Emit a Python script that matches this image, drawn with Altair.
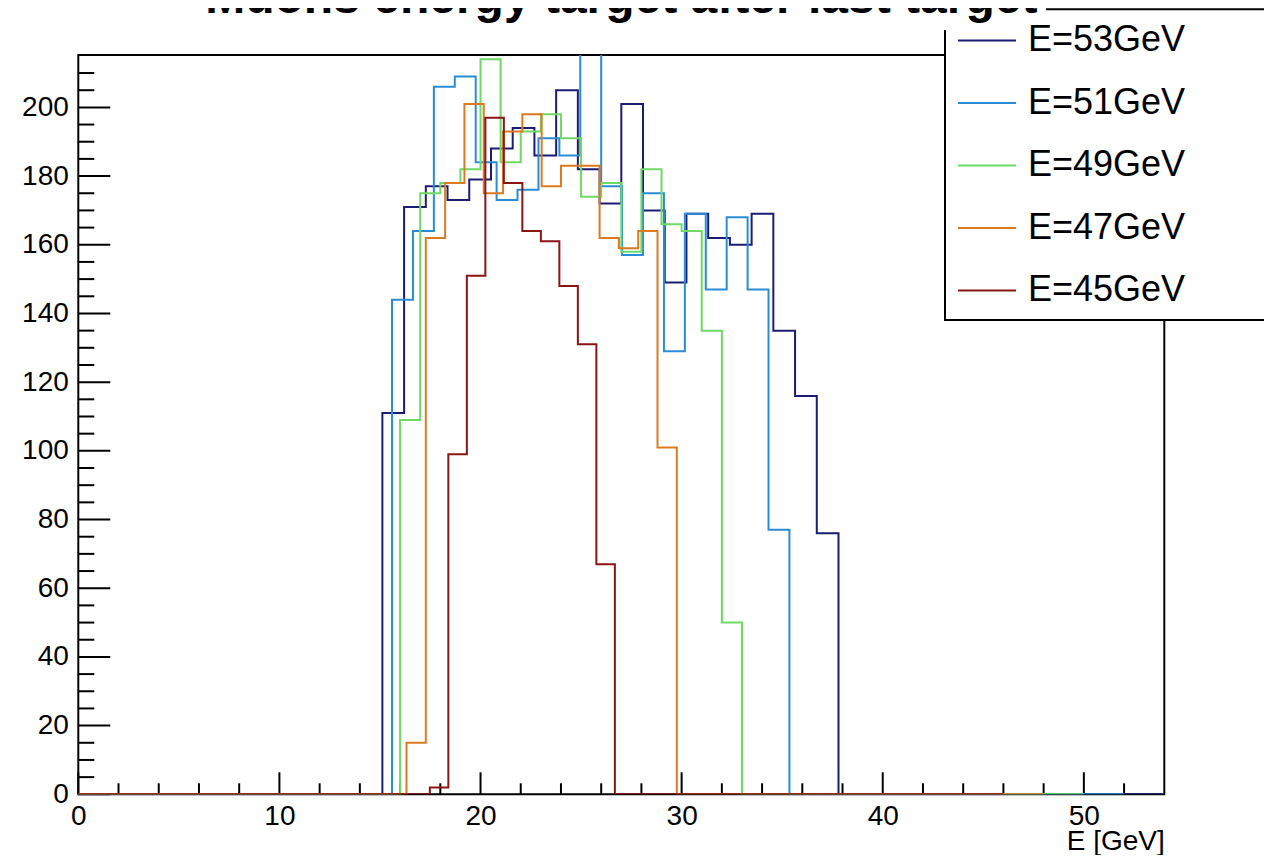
import altair as alt
import pandas as pd

# ---------------- data ----------------
series_labels = ["E=53GeV", "E=51GeV", "E=49GeV", "E=47GeV", "E=45GeV"]
series_colors = ["#1c1c74", "#2b8cd6", "#6ed964", "#dc7a22", "#8a1515"]
# each histogram: 50 bins from 0 to hist_max
hist_max = [54, 52, 50, 48, 46]
n_bins = 50
# index of first non-empty bin and the non-empty bin contents
first_bin = [14, 15, 16, 17, 19]
contents = [
    [111, 171, 177, 173, 179, 188, 194, 186, 205, 182, 172, 201, 170, 149, 169,
     162, 160, 169, 135, 116, 76],
    [144, 164, 206, 209, 184, 173, 176, 191, 186, 228, 177, 157, 175, 129, 169,
     147, 168, 147, 77],
    [109, 175, 178, 182, 214, 184, 193, 198, 191, 174, 178, 158, 182, 166, 164,
     135, 50],
    [15, 162, 178, 201, 175, 193, 198, 177, 183, 183, 162, 159, 164, 101],
    [2, 99, 151, 197, 178, 164, 161, 148, 131, 67],
]

x_major = [0, 10, 20, 30, 40, 50]
x_minor = [2, 4, 6, 8, 12, 14, 16, 18, 22, 24, 26, 28, 32, 34, 36, 38, 42, 44,
           46, 48, 52]
y_major = [0, 20, 40, 60, 80, 100, 120, 140, 160, 180, 200]
y_minor = [5, 10, 15, 25, 30, 35, 45, 50, 55, 65, 70, 75, 85, 90, 95, 105, 110,
           115, 125, 130, 135, 145, 150, 155, 165, 170, 175, 185, 190, 195, 205,
           210]

x_domain = [0, 54]
y_domain = [0, 215.25]

# ---------------- build histogram outline table ----------------
rows = []
for lab, hmax, fb, cont in zip(series_labels, hist_max, first_bin, contents):
    counts = [0] * n_bins
    for i, c in enumerate(cont):
        counts[fb + i] = c
    w = hmax / n_bins
    for k in range(n_bins + 1):
        rows.append({"series": lab, "x": k * w, "y": counts[min(k, n_bins - 1)]})
df = pd.DataFrame(rows)

FONT = "Liberation Sans"
W, H = 1086, 739.3

xs = alt.Scale(domain=x_domain, nice=False, zero=False)
ys = alt.Scale(domain=y_domain, nice=False, zero=False)

color = alt.Color(
    "series:N",
    scale=alt.Scale(domain=series_labels, range=series_colors),
    legend=alt.Legend(
        title=None,
        orient="none",
        legendX=866.7,
        legendY=-44.6,
        symbolType="stroke",
        symbolSize=3364,
        symbolStrokeWidth=2,
        labelFontSize=36,
        labelFont=FONT,
        labelColor="black",
        labelOffset=11,
        labelLimit=600,
        rowPadding=14.5,
        padding=0,
        symbolOffset=12,
    ),
)

x_axis = alt.Axis(
    values=x_major, format="d", labelFontSize=28, labelFont=FONT,
    labelColor="black", labelPadding=8, tickSize=0, domain=False, grid=False,
    labelFlush=False, labelOverlap=False,
    title="E [GeV]", titleFont=FONT, titleFontSize=28, titleFontWeight="normal",
    titleColor="black", titleAnchor="end", titleAlign="right",
    titleBaseline="alphabetic", titleY=55,
)
y_axis = alt.Axis(
    values=y_major, format="d", labelFontSize=28, labelFont=FONT,
    labelColor="black", labelPadding=10, tickSize=0, domain=False, grid=False,
    labelOverlap=False, title=None,
)

# tick marks (ROOT style, pointing inwards)
t_ymaj = alt.Chart(pd.DataFrame({"v": y_major})).mark_rule(
    color="black", strokeWidth=2).encode(
    y=alt.Y("v:Q", scale=ys, axis=y_axis), x=alt.value(0), x2=alt.value(32))
t_ymin = alt.Chart(pd.DataFrame({"v": y_minor})).mark_rule(
    color="black", strokeWidth=2).encode(
    y=alt.Y("v:Q", scale=ys, axis=y_axis), x=alt.value(0), x2=alt.value(16))
t_xmaj = alt.Chart(pd.DataFrame({"v": x_major})).mark_rule(
    color="black", strokeWidth=2).encode(
    x=alt.X("v:Q", scale=xs, axis=x_axis), y=alt.value(H), y2=alt.value(H - 22))
t_xmin = alt.Chart(pd.DataFrame({"v": x_minor})).mark_rule(
    color="black", strokeWidth=2).encode(
    x=alt.X("v:Q", scale=xs, axis=x_axis), y=alt.value(H), y2=alt.value(H - 11))

hist_base = alt.Chart(df).mark_line(
    interpolate="step-after", strokeWidth=2, clip=True).encode(
    x=alt.X("x:Q", scale=xs, axis=x_axis),
    y=alt.Y("y:Q", scale=ys, axis=y_axis),
    color=color,
)
hist_layers = [hist_base.transform_filter(alt.datum.series == s) for s in series_labels]

# legend frame (runs past the right edge, as in the original canvas)
one = pd.DataFrame({"a": [0]})
legend_box = alt.Chart(one).mark_rect(
    fill="white", stroke="black", strokeWidth=2).encode(
    x=alt.value(866.7), x2=alt.value(1300), y=alt.value(-45.7), y2=alt.value(265))
# white title pave that hides the legend frame's top-left corner
title_box = alt.Chart(one).mark_rect(fill="white").encode(
    x=alt.value(116.7), x2=alt.value(967.7), y=alt.value(-47), y2=alt.value(-25))

chart = alt.layer(t_ymaj, t_ymin, t_xmaj, t_xmin, *hist_layers,
                  legend_box, title_box).properties(
    width=W,
    height=H,
    autosize=alt.AutoSizeParams(type="none"),
    padding={"left": 70.3, "top": 47, "right": 99.7, "bottom": 60.7},
    title=alt.TitleParams(
        text="Muons energy target after last target",
        fontSize=48, fontWeight="bold", font=FONT, color="black",
        anchor="middle", baseline="alphabetic", offset=-53, zindex=2,
    ),
).configure(
    background="white", font=FONT
).configure_view(
    stroke="black", strokeWidth=2
)

chart.save("out.html", embed_options={"renderer": "svg", "actions": False})
